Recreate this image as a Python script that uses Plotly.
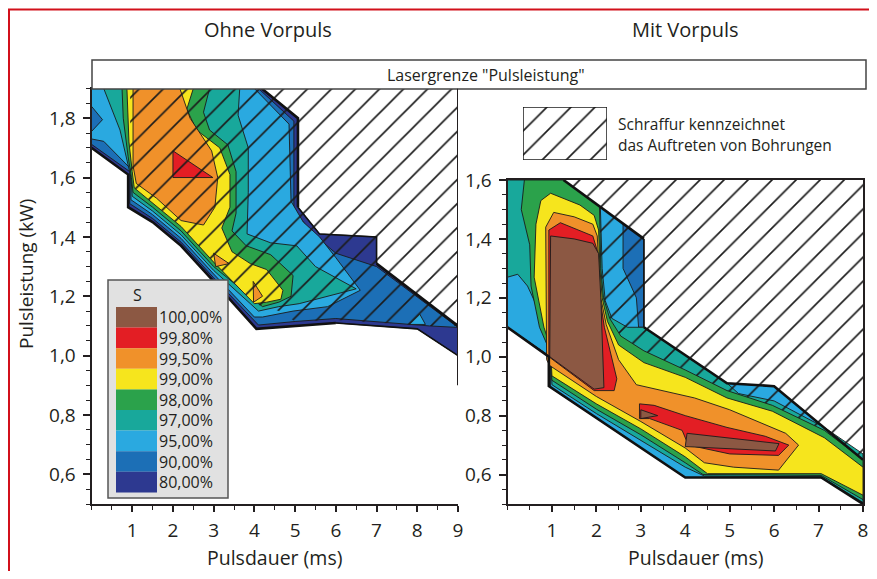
import plotly.graph_objects as go

# ---------------- data ----------------
level_labels = ["100,00%", "99,80%", "99,50%", "99,00%", "98,00%", "97,00%", "95,00%", "90,00%", "80,00%"]
level_colors = ["#8c5843", "#e31e24", "#f0912a", "#f6e51d", "#2ba24b", "#18a89b", "#2aa9e0", "#1c6fb6", "#2d3990"]
C = dict(zip(["100", "99.8", "99.5", "99", "98", "97", "95", "90", "80"], level_colors))

left_xticks = [1, 2, 3, 4, 5, 6, 7, 8, 9]
right_xticks = [1, 2, 3, 4, 5, 6, 7, 8]
left_yticks = [0.6, 0.8, 1.0, 1.2, 1.4, 1.6, 1.8]
left_yticktext = ["0,6", "0,8", "1,0", "1,2", "1,4", "1,6", "1,8"]
right_yticks = [0.6, 0.8, 1.0, 1.2, 1.4, 1.6]
right_yticktext = ["0,6", "0,8", "1,0", "1,2", "1,4", "1,6"]

# Ohne Vorpuls: regions S >= level (pulse duration ms, pulse power kW)
left_s80 = [(0, 1.9), (4.18, 1.9), (5.07, 1.8), (5.07, 1.5), (5.6, 1.41), (7.0, 1.40), (7.0, 1.31), (8.8, 1.12),
            (9.0, 1.1), (9.0, 1.0), (8.0, 1.09), (6.0, 1.11), (4.05, 1.09), (3.0, 1.25), (2.2, 1.37), (1.5, 1.45),
            (0.9, 1.5), (0.9, 1.61), (0, 1.7)]
left_s90 = [(0, 1.9), (4.1, 1.9), (4.97, 1.79), (4.97, 1.49), (5.44, 1.41), (6.0, 1.345), (7.0, 1.3), (8.8, 1.115),
            (9.0, 1.095), (8.3, 1.1), (6.0, 1.125), (5.0, 1.115), (4.1, 1.103), (3.0, 1.262), (2.2, 1.382),
            (1.5, 1.462), (0.94, 1.512), (0.94, 1.62), (0, 1.712)]
left_s95 = [(0, 1.9), (4.0, 1.9), (4.85, 1.78), (4.9, 1.52), (5.2, 1.45), (5.6, 1.40), (6.0, 1.33), (6.6, 1.22),
            (5.8, 1.165), (4.95, 1.15), (4.2, 1.13), (4.0, 1.13), (3.0, 1.275), (2.2, 1.395), (1.5, 1.475),
            (0.97, 1.525), (0.96, 1.63), (0.3, 1.722), (0, 1.73), (0, 1.755), (0.27, 1.795), (0, 1.84)]
left_s95b = [(7.8, 1.105), (8.06, 1.14), (8.2, 1.105)]
left_s97 = [(0.3, 1.9), (3.64, 1.9), (3.6, 1.81), (3.85, 1.7), (3.85, 1.55), (3.82, 1.41), (4.4, 1.38), (5.04, 1.37),
            (5.5, 1.3), (6.5, 1.225), (5.1, 1.175), (4.6, 1.165), (4.1, 1.15), (3.0, 1.287), (2.2, 1.407),
            (1.5, 1.487), (1.0, 1.537), (0.97, 1.6), (0.7, 1.76), (0.5, 1.83)]
left_s98 = [(0.75, 1.9), (2.9, 1.9), (2.75, 1.82), (2.9, 1.76), (3.35, 1.71), (3.55, 1.62), (3.55, 1.48),
            (3.45, 1.42), (3.8, 1.37), (4.4, 1.34), (4.95, 1.27), (4.9, 1.2), (4.6, 1.18), (4.2, 1.165),
            (3.0, 1.30), (2.2, 1.42), (1.5, 1.50), (1.02, 1.55), (0.98, 1.6), (0.9, 1.67), (0.78, 1.8)]
left_s99 = [(0.87, 1.9), (2.5, 1.9), (2.34, 1.83), (2.58, 1.76), (3.15, 1.70), (3.4, 1.61), (3.4, 1.5),
            (3.2, 1.43), (3.45, 1.35), (3.9, 1.31), (4.3, 1.29), (4.7, 1.22), (4.65, 1.19), (4.3, 1.18),
            (4.0, 1.175), (3.0, 1.315), (2.2, 1.435), (1.5, 1.515), (1.05, 1.565), (1.0, 1.62), (0.92, 1.72)]
left_s995 = [(1.02, 1.9), (2.17, 1.9), (2.42, 1.8), (2.95, 1.69), (3.1, 1.6), (3.03, 1.5), (2.75, 1.44),
             (2.2, 1.455), (1.6, 1.53), (1.1, 1.58), (1.02, 1.64)]
left_s995b = [(3.0, 1.345), (3.38, 1.31), (3.05, 1.30)]
left_s995c = [(3.97, 1.25), (4.2, 1.2), (3.98, 1.18)]
left_s998 = [(2.0, 1.69), (2.98, 1.60), (2.0, 1.60)]
left_holes = [(0.95, 1.9), (9.0, 1.9), (9.0, 1.1), (8.3, 1.1), (6.0, 1.12), (5.0, 1.115), (4.6, 1.15),
              (4.0, 1.175), (3.0, 1.315), (2.2, 1.435), (1.5, 1.515), (1.05, 1.565), (0.95, 1.6)]

# Mit Vorpuls
right_s90 = [(0, 1.6), (1.26, 1.6), (3.07, 1.4), (3.07, 1.1), (4.94, 0.91), (6.0, 0.90), (8.0, 0.65), (8.0, 0.5),
             (7.06, 0.59), (4.0, 0.59), (0.93, 0.9), (0.93, 1.0), (0, 1.1)]
right_s95 = [(0, 1.6), (1.26, 1.6), (2.6, 1.452), (2.6, 1.3), (2.9, 1.2), (2.95, 1.1), (3.07, 1.1), (4.94, 0.91),
             (6.0, 0.90), (8.0, 0.65), (8.0, 0.5), (7.06, 0.59), (4.0, 0.59), (0.97, 0.895), (0.97, 1.0), (0, 1.1)]
right_s97 = [(0, 1.6), (1.26, 1.6), (2.09, 1.508), (2.13, 1.3), (2.2, 1.19), (2.35, 1.13), (2.7, 1.1), (3.07, 1.1),
             (4.94, 0.91), (5.2, 0.875), (6.0, 0.85), (7.13, 0.76), (8.0, 0.67), (8.0, 0.505), (7.06, 0.592),
             (4.43, 0.595), (4.0, 0.625), (3.0, 0.715), (2.0, 0.807), (1.0, 0.905), (0.98, 1.0), (0.88, 1.1),
             (0.45, 1.24), (0.23, 1.28), (0, 1.27)]
right_s98 = [(0.38, 1.6), (1.26, 1.6), (2.07, 1.51), (2.1, 1.3), (2.16, 1.2), (2.3, 1.13), (2.55, 1.07),
             (3.07, 1.02), (4.0, 0.955), (4.94, 0.885), (5.96, 0.835), (7.13, 0.75), (8.0, 0.65), (8.0, 0.515),
             (7.06, 0.597), (4.4, 0.6), (4.0, 0.64), (3.0, 0.735), (2.0, 0.822), (1.0, 0.92), (0.95, 1.02),
             (0.72, 1.1), (0.53, 1.24), (0.5, 1.38), (0.31, 1.5)]
right_s99 = [(0.6, 1.27), (0.64, 1.45), (0.75, 1.53), (0.97, 1.555), (1.63, 1.515), (1.95, 1.48), (2.05, 1.43),
             (2.08, 1.3), (2.13, 1.2), (2.25, 1.12), (2.5, 1.04), (3.07, 0.98), (4.0, 0.93), (4.94, 0.86),
             (5.96, 0.815), (7.13, 0.725), (8.0, 0.625), (8.0, 0.53), (7.06, 0.603), (4.5, 0.603), (4.0, 0.66),
             (3.0, 0.755), (2.0, 0.84), (1.0, 0.935), (0.97, 1.03), (0.82, 1.1)]
right_s995 = [(0.88, 0.99), (0.86, 1.44), (1.04, 1.49), (1.5, 1.475), (1.92, 1.45), (2.02, 1.41), (2.06, 1.3),
              (2.1, 1.2), (2.22, 1.11), (2.5, 0.99), (2.9, 0.905), (3.5, 0.885), (4.21, 0.86), (5.0, 0.82),
              (6.26, 0.74), (6.55, 0.70), (6.1, 0.615), (5.09, 0.625), (4.43, 0.64), (4.0, 0.69), (3.0, 0.78),
              (2.0, 0.865), (1.5, 0.915), (0.95, 0.97)]
right_s998 = [(0.93, 1.0), (0.93, 1.43), (1.19, 1.455), (1.92, 1.41), (2.02, 1.36), (2.08, 1.2), (2.18, 1.1),
              (2.46, 0.925), (2.4, 0.885), (1.95, 0.885)]
right_s998b = [(2.97, 0.84), (3.3, 0.835), (4.0, 0.80), (4.94, 0.76), (5.8, 0.73), (6.33, 0.70), (6.1, 0.665),
               (5.0, 0.67), (4.07, 0.70), (3.93, 0.75), (3.2, 0.79), (2.97, 0.79)]
right_s100 = [(0.97, 1.41), (1.5, 1.40), (1.92, 1.385), (2.05, 1.35), (2.1, 1.2), (2.17, 0.895), (1.95, 0.89),
              (0.95, 1.0)]
right_s100b = [(4.04, 0.74), (6.11, 0.705), (6.03, 0.68), (4.0, 0.695)]
right_s100c = [(3.0, 0.82), (3.38, 0.80), (3.0, 0.79)]
right_holes = [(1.26, 1.6), (8.0, 1.6), (8.0, 0.65), (7.13, 0.75), (5.96, 0.835), (4.94, 0.885), (4.0, 0.955),
               (3.07, 1.02), (2.55, 1.07), (2.3, 1.13), (2.16, 1.2), (2.1, 1.3), (2.07, 1.51)]
hatch_key = [(0, 0), (1, 0), (1, 1), (0, 1)]

# ---------------- figure ----------------
# the page body has an 8px margin on every side; size the figure so the page does not overflow
OX, OY = 8, 8
W, H = 877 - 2 * OX, 579 - 2 * OY
FONT = "Open Sans"
TXT = "#231f20"
fig = go.Figure()


def xs(p):
    return [q[0] for q in p] + [p[0][0]]


def ys(p):
    return [q[1] for q in p] + [p[0][1]]


def poly(p, color, ax):
    fig.add_trace(go.Scatter(x=xs(p), y=ys(p), mode="lines", fill="toself", fillcolor=color,
                             line=dict(color="#1b1b1b", width=0.9), xaxis="x" + ax, yaxis="y" + ax,
                             hoverinfo="skip", showlegend=False))


HATCH = dict(shape="/", size=17, solidity=0.1, fgcolor="#1b1b1b", bgcolor="rgba(0,0,0,0)", fillmode="replace")


def hatch(p, ax, outline=0):
    fig.add_trace(go.Scatter(x=xs(p), y=ys(p), mode="lines", fill="toself", fillcolor="rgba(0,0,0,0)",
                             fillpattern=HATCH, line=dict(color="#1b1b1b", width=outline),
                             xaxis="x" + ax, yaxis="y" + ax, hoverinfo="skip", showlegend=False))


def edge(p, ax, w=2.6):
    fig.add_trace(go.Scatter(x=[q[0] for q in p], y=[q[1] for q in p], mode="lines",
                             line=dict(color="#111", width=w), xaxis="x" + ax, yaxis="y" + ax,
                             hoverinfo="skip", showlegend=False))


for p, c in [(left_s80, "80"), (left_s90, "90"), (left_s95, "95"), (left_s95b, "95"), (left_s97, "97"),
             (left_s98, "98"), (left_s99, "99"), (left_s995, "99.5"), (left_s995b, "99.5"),
             (left_s995c, "99.5"), (left_s998, "99.8")]:
    poly(p, C[c], "")
hatch(left_holes, "")
edge(left_s80[1:4], "")
edge(left_s80[3:7], "", 1.6)
edge(left_s80[6:9], "")
edge(left_s80[9:12], "", 1.6)
edge(left_s80[11:], "")

for p, c in [(right_s90, "90"), (right_s95, "95"), (right_s97, "97"), (right_s98, "98"), (right_s99, "99"),
             (right_s995, "99.5"), (right_s998, "99.8"), (right_s998b, "99.8"), (right_s100, "100"),
             (right_s100b, "100"), (right_s100c, "100")]:
    poly(p, C[c], "2")
hatch(right_holes, "2")
edge(right_s90[1:3], "2")
edge(right_s90[2:4], "2", 1.6)
edge(right_s90[3:7], "2")
edge(right_s90[7:13], "2")

hatch(hatch_key, "3", outline=1.5)


# pixel helpers for layout placement (window pixels -> paper)
def px(x):
    return (x - OX) / W


def py(y):
    return 1 - (y - OY) / H


tickfont = dict(family=FONT, size=19, color=TXT)
axis_common = dict(showgrid=False, zeroline=False, showline=True, linecolor=TXT, linewidth=2,
                   ticks="outside", tickcolor=TXT, tickwidth=1.5, tickfont=tickfont, fixedrange=True,
                   ticklabeloverflow="allow")

fig.update_layout(
    width=W, height=H, margin=dict(l=0, r=0, t=0, b=0, autoexpand=False),
    paper_bgcolor="white", plot_bgcolor="rgba(0,0,0,0)", showlegend=False,
    font=dict(family=FONT, color=TXT),
    xaxis=dict(domain=[px(91.5), px(458)], range=[0, 9], tickmode="array", tickvals=left_xticks,
               ticktext=[str(v) for v in left_xticks], ticklen=6, ticklabelstandoff=2,
               minor=dict(dtick=0.5, tick0=0, ticks="outside", ticklen=4, tickcolor=TXT, tickwidth=1.3),
               anchor="y", mirror=True, **axis_common),
    yaxis=dict(domain=[py(504), py(88.5)], range=[0.5, 1.9], tickmode="array", tickvals=left_yticks,
               ticktext=left_yticktext, ticklen=7, ticklabelstandoff=3,
               minor=dict(dtick=0.05, tick0=0.5, ticks="outside", ticklen=4, tickcolor=TXT, tickwidth=1.3),
               anchor="x", **axis_common),
    xaxis2=dict(domain=[px(507.5), px(863)], range=[0, 8], tickmode="array", tickvals=right_xticks,
                ticktext=[str(v) for v in right_xticks], ticklen=6, ticklabelstandoff=2,
                minor=dict(dtick=0.5, tick0=0, ticks="outside", ticklen=4, tickcolor=TXT, tickwidth=1.3),
                anchor="y2", mirror=True, **axis_common),
    yaxis2=dict(domain=[py(504), py(180)], range=[0.5, 1.6], tickmode="array", tickvals=right_yticks,
                ticktext=right_yticktext, ticklen=7, ticklabelstandoff=3,
                minor=dict(dtick=0.05, tick0=0.5, ticks="outside", ticklen=4, tickcolor=TXT, tickwidth=1.3),
                anchor="x2", mirror=True, **axis_common),
    xaxis3=dict(domain=[px(523), px(607)], range=[0, 1], visible=False, fixedrange=True),
    yaxis3=dict(domain=[py(160), py(107)], range=[0, 1], visible=False, fixedrange=True),
)

shapes = [
    dict(type="rect", xref="paper", yref="paper", x0=px(9), x1=1.05, y0=-0.05, y1=py(9.5),
         line=dict(color="#d2101b", width=2), layer="above"),
    dict(type="rect", xref="paper", yref="paper", x0=px(92), x1=px(866), y0=py(89), y1=py(60),
         line=dict(color="#444", width=1.5), fillcolor="white"),
    dict(type="line", xref="x", yref="y", x0=9, x1=9, y0=0.9, y1=1.9, line=dict(color=TXT, width=2)),
    dict(type="rect", xref="paper", yref="paper", x0=px(108), x1=px(228), y0=py(498), y1=py(280),
         line=dict(color="#555", width=1.5), fillcolor="#e1e1e1", layer="above"),
]
row_h = 20.6
for i, col in enumerate(level_colors):
    top = 307 + i * row_h
    shapes.append(dict(type="rect", xref="paper", yref="paper", x0=px(116), x1=px(157),
                       y0=py(top + row_h), y1=py(top), line=dict(width=0), fillcolor=col, layer="above"))
fig.update_layout(shapes=shapes)

ann = [
    dict(text="Ohne Vorpuls", x=px(268), y=py(29), font=dict(size=20)),
    dict(text="Mit Vorpuls", x=px(685), y=py(29), font=dict(size=20)),
    dict(text="Lasergrenze \"Pulsleistung\"", x=px(486), y=py(75), font=dict(size=16)),
    dict(text="Pulsleistung (kW)", x=px(26), y=py(274), textangle=-90, font=dict(size=19)),
    dict(text="Pulsdauer (ms)", x=px(274), y=py(557), font=dict(size=19.5)),
    dict(text="Pulsdauer (ms)", x=px(695), y=py(557), font=dict(size=19.5)),
    dict(text="Schraffur kennzeichnet", x=px(616), y=py(124), xanchor="left", font=dict(size=15.5)),
    dict(text="das Auftreten von Bohrungen", x=px(616), y=py(145), xanchor="left", font=dict(size=15.5)),
    dict(text="S", x=px(137), y=py(295), font=dict(size=16)),
]
for i, lab in enumerate(level_labels):
    ann.append(dict(text=lab, x=px(157), y=py(307 + i * row_h + row_h / 2), xanchor="left",
                    font=dict(size=16)))
for a in ann:
    a.update(xref="paper", yref="paper", showarrow=False)
    a.setdefault("xanchor", "center")
    a["yanchor"] = "middle"
    a["font"] = dict(family=FONT, color=TXT, **a["font"])
fig.update_layout(annotations=ann)

fig.write_html("out.html")
